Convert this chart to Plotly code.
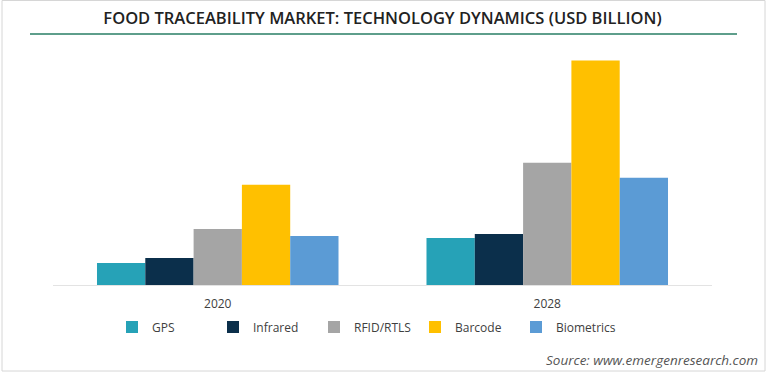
import plotly.graph_objects as go

years = ["2020", "2028"]
technologies = ["GPS", "Infrared", "RFID/RTLS", "Barcode", "Biometrics"]
gps = [1.1, 2.35]
infrared = [1.35, 2.55]
rfid_rtls = [2.8, 6.1]
barcode = [5.0, 11.2]
biometrics = [2.45, 5.35]
series_values = [gps, infrared, rfid_rtls, barcode, biometrics]
colors = ["#26a2b7", "#0b2f4b", "#a5a5a5", "#ffc000", "#5b9bd5"]

W, H = 768, 375
ML, MR, MT, MB = 53, 56, 55, 90
PW = W - ML - MR
PH = H - MT - MB


def px_x(px):
    return (px - ML) / PW


def px_y(py):
    return (H - MB - py) / PH


fig = go.Figure()
for name, vals, col in zip(technologies, series_values, colors):
    fig.add_trace(go.Bar(x=years, y=vals, name=name, marker=dict(color=col, line=dict(width=0))))

fig.update_layout(
    width=W, height=H,
    margin=dict(l=ML, r=MR, t=MT, b=MB),
    paper_bgcolor="white", plot_bgcolor="white",
    barmode="group", bargap=0.267, bargroupgap=0,
    title=dict(text="FOOD TRACEABILITY MARKET: TECHNOLOGY DYNAMICS (USD BILLION)",
               x=0.5, xanchor="center", xref="paper", y=1 - 18 / H, yanchor="middle",
               font=dict(family="Open Sans", size=16.5, color="#222222", weight=600)),
    xaxis=dict(showline=True, linecolor="#e3e3e3", linewidth=1, ticks="outside", ticklen=8,
               tickcolor="rgba(0,0,0,0)", showgrid=False,
               tickfont=dict(family="Open Sans", size=12, color="#404040")),
    yaxis=dict(range=[0, 11.48], visible=False, showgrid=False, zeroline=False),
    legend=dict(orientation="h", x=px_x(112), xanchor="left", y=px_y(327), yanchor="middle",
                font=dict(family="Open Sans", size=12, color="#404040"),
                entrywidth=56, entrywidthmode="pixels", traceorder="normal"),
    showlegend=True,
)

fig.add_shape(type="line", xref="paper", yref="paper",
              x0=px_x(30), x1=px_x(737), y0=px_y(34), y1=px_y(34),
              line=dict(color="#5e9e8b", width=2))
fig.add_shape(type="rect", xref="paper", yref="paper",
              x0=px_x(2), x1=px_x(765), y0=px_y(371), y1=px_y(0.5),
              line=dict(color="#d6d6d6", width=1))

fig.add_annotation(text="<i>Source: www.emergenresearch.com</i>", xref="paper", yref="paper",
                   x=px_x(760), y=px_y(360), xanchor="right", yanchor="middle", showarrow=False,
                   font=dict(family="Open Sans", size=13.5, color="#555555"))

fig.write_html("out.html", config={"displayModeBar": False},
               post_script="document.body.style.margin='0';document.body.style.overflow='hidden';")
